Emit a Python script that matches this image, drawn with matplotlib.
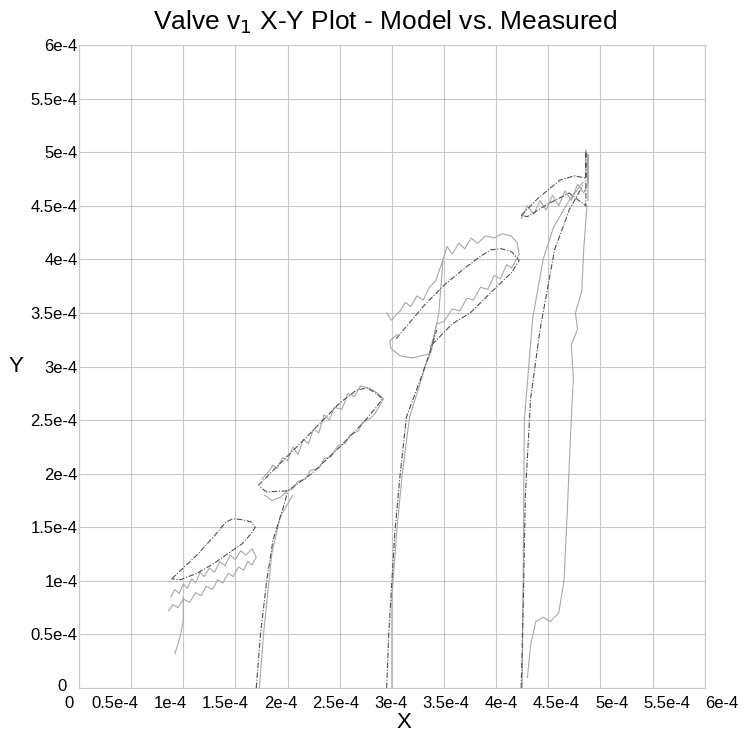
import matplotlib
matplotlib.use('Agg')
import matplotlib.pyplot as plt

# all values in units of 1e-4
SCALE = 1e-4

tick_vals = [0, 0.5, 1, 1.5, 2, 2.5, 3, 3.5, 4, 4.5, 5, 5.5, 6]
tick_text = ["0", "0.5e-4", "1e-4", "1.5e-4", "2e-4", "2.5e-4", "3e-4",
             "3.5e-4", "4e-4", "4.5e-4", "5e-4", "5.5e-4", "6e-4"]

# model traces (darker)
model_loop1_x = [0.89, 1.13, 1.29, 1.41, 1.48, 1.57, 1.65, 1.69, 1.65, 1.57, 1.45, 1.29, 1.13, 0.97, 0.89]
model_loop1_y = [1.02, 1.24, 1.41, 1.55, 1.58, 1.57, 1.55, 1.50, 1.44, 1.35, 1.27, 1.16, 1.07, 1.01, 1.02]

model_rise2_x = [1.70, 1.74, 1.80, 1.86, 1.96, 2.00]
model_rise2_y = [0.00, 0.50, 1.00, 1.38, 1.69, 1.83]
model_loop2_x = [1.72, 1.83, 2.18, 2.50, 2.66, 2.76, 2.85, 2.91, 2.85, 2.72, 2.50, 2.23, 2.00, 1.80, 1.73]
model_loop2_y = [1.89, 2.00, 2.34, 2.66, 2.78, 2.80, 2.75, 2.70, 2.62, 2.47, 2.25, 2.00, 1.84, 1.83, 1.88]

model_rise3_x = [2.95, 2.97, 3.00, 3.03, 3.08, 3.14, 3.27, 3.36, 3.43]
model_rise3_y = [0.00, 0.50, 1.00, 1.47, 2.00, 2.53, 2.87, 3.12, 3.34]
model_loop3_x = [3.04, 3.30, 3.50, 3.70, 3.85, 3.95, 4.05, 4.15, 4.22, 4.15, 4.00, 3.75, 3.58, 3.46, 3.36]
model_loop3_y = [3.26, 3.56, 3.76, 3.92, 4.03, 4.09, 4.10, 4.07, 3.99, 3.88, 3.74, 3.50, 3.40, 3.28, 3.18]

model_rise4_x = [4.24, 4.26, 4.28, 4.33, 4.42, 4.56, 4.70, 4.83]
model_rise4_y = [0.00, 0.80, 1.80, 2.70, 3.34, 4.09, 4.46, 4.69]
model_loop4_x = [4.24, 4.40, 4.61, 4.75, 4.86, 4.86, 4.86, 4.70, 4.50, 4.30, 4.24]
model_loop4_y = [4.41, 4.57, 4.74, 4.78, 4.76, 5.02, 4.50, 4.62, 4.52, 4.40, 4.41]

# measured traces (lighter, noisy)
meas_loop1_x = [0.88, 0.92, 0.96, 1.00, 1.04, 1.08, 1.12, 1.16, 1.20, 1.25, 1.30, 1.35, 1.40, 1.45, 1.50,
                1.55, 1.60, 1.66, 1.70, 1.66, 1.62, 1.58, 1.53, 1.48, 1.43, 1.38, 1.33, 1.28, 1.22, 1.17,
                1.12, 1.06, 1.00, 0.95, 0.90, 0.86]
meas_loop1_y = [0.85, 0.92, 0.88, 0.97, 0.93, 1.02, 0.98, 1.08, 1.04, 1.12, 1.08, 1.18, 1.14, 1.24, 1.20,
                1.28, 1.24, 1.30, 1.22, 1.15, 1.18, 1.10, 1.13, 1.04, 1.07, 0.98, 1.01, 0.92, 0.95, 0.86,
                0.89, 0.80, 0.83, 0.75, 0.78, 0.72]
meas_tail1_x = [1.00, 1.00, 0.97, 0.92]
meas_tail1_y = [0.85, 0.63, 0.48, 0.32]

meas_rise2_x = [1.73, 1.77, 1.85, 1.93, 2.05]
meas_rise2_y = [0.00, 0.51, 1.26, 1.60, 1.80]
meas_loop2_x = [1.75, 1.82, 1.86, 1.90, 1.95, 2.00, 2.05, 2.10, 2.15, 2.20, 2.25, 2.30, 2.35, 2.40, 2.45,
                2.52, 2.58, 2.64, 2.70, 2.78, 2.85, 2.92, 2.85, 2.80, 2.72, 2.68, 2.60, 2.55, 2.48, 2.42,
                2.35, 2.30, 2.22, 2.17, 2.10, 2.05, 2.00, 1.93, 1.85, 1.78]
meas_loop2_y = [1.95, 2.02, 2.08, 2.05, 2.15, 2.12, 2.25, 2.18, 2.32, 2.28, 2.42, 2.38, 2.55, 2.50, 2.62,
                2.60, 2.75, 2.72, 2.82, 2.80, 2.76, 2.70, 2.58, 2.52, 2.48, 2.40, 2.36, 2.28, 2.26, 2.16,
                2.14, 2.05, 2.03, 1.95, 1.93, 1.86, 1.84, 1.78, 1.75, 1.80]

meas_rise3_x = [3.00, 3.00, 3.05, 3.10, 3.17, 3.33, 3.38, 3.45, 3.49]
meas_rise3_y = [0.00, 0.85, 1.50, 2.00, 2.53, 3.03, 3.15, 3.50, 3.99]
meas_loop3_x = [2.95, 3.00, 3.03, 3.08, 3.13, 3.18, 3.24, 3.30, 3.36, 3.42, 3.48, 3.53, 3.58, 3.64, 3.70,
                3.76, 3.82, 3.90, 3.98, 4.06, 4.14, 4.20, 4.22, 4.15, 4.10, 4.04, 3.98, 3.92, 3.85, 3.78,
                3.72, 3.65, 3.58, 3.50, 3.43, 3.36, 3.20, 3.08, 2.99, 2.98, 3.05]
meas_loop3_y = [3.50, 3.43, 3.47, 3.52, 3.60, 3.56, 3.66, 3.62, 3.74, 3.80, 3.97, 4.12, 4.05, 4.15, 4.10,
                4.20, 4.15, 4.22, 4.20, 4.24, 4.22, 4.16, 4.05, 3.92, 3.95, 3.82, 3.85, 3.72, 3.74, 3.62,
                3.64, 3.52, 3.54, 3.42, 3.40, 3.12, 3.08, 3.10, 3.17, 3.24, 3.30]

meas_rise4_x = [4.30, 4.33, 4.38, 4.45, 4.52, 4.60, 4.65, 4.68, 4.71, 4.74, 4.72, 4.78, 4.76, 4.82, 4.84, 4.87]
meas_rise4_y = [0.10, 0.40, 0.62, 0.66, 0.62, 0.70, 1.00, 1.60, 2.30, 2.90, 3.20, 3.35, 3.50, 3.70, 4.10, 4.50]
meas_steep4_x = [4.25, 4.26, 4.27, 4.35, 4.45, 4.55, 4.70, 4.83]
meas_steep4_y = [0.00, 1.20, 2.50, 3.45, 4.00, 4.30, 4.55, 4.72]
meas_loop4_x = [4.24, 4.30, 4.36, 4.42, 4.48, 4.54, 4.60, 4.66, 4.72, 4.78, 4.84, 4.88, 4.88, 4.88]
meas_loop4_y = [4.38, 4.50, 4.42, 4.55, 4.46, 4.60, 4.50, 4.64, 4.55, 4.70, 4.62, 4.72, 4.98, 4.55]

model_traces = [(model_loop1_x, model_loop1_y), (model_rise2_x, model_rise2_y),
                (model_loop2_x, model_loop2_y), (model_rise3_x, model_rise3_y),
                (model_loop3_x, model_loop3_y), (model_rise4_x, model_rise4_y),
                (model_loop4_x, model_loop4_y)]
meas_traces = [(meas_loop1_x, meas_loop1_y), (meas_tail1_x, meas_tail1_y),
               (meas_rise2_x, meas_rise2_y), (meas_loop2_x, meas_loop2_y),
               (meas_rise3_x, meas_rise3_y), (meas_loop3_x, meas_loop3_y),
               (meas_rise4_x, meas_rise4_y), (meas_steep4_x, meas_steep4_y),
               (meas_loop4_x, meas_loop4_y)]

plt.rcParams['font.family'] = ['Liberation Sans', 'DejaVu Sans']

fig = plt.figure(figsize=(7.45, 7.33), dpi=100)
ax = fig.add_axes([0.106, 0.0614, 0.840, 0.877])

for xs, ys in meas_traces:
    ax.plot([v * SCALE for v in xs], [v * SCALE for v in ys], color='#a8a8a8', lw=0.8)
for xs, ys in model_traces:
    ax.plot([v * SCALE for v in xs], [v * SCALE for v in ys], color='#505050', lw=0.8,
            linestyle=(0, (5, 1.5, 1, 1.5)))

ax.set_xlim(0, 6 * SCALE)
ax.set_ylim(0, 6 * SCALE)
ax.set_xticks([v * SCALE for v in tick_vals])
ax.set_yticks([v * SCALE for v in tick_vals])
ax.set_xticklabels([])
ax.set_yticklabels([""] + tick_text[1:], fontsize=12)
ax.tick_params(length=0, pad=1)
ax.grid(True, color='#c8c8c8', lw=0.8)
for s in ax.spines.values():
    s.set_color('#c8c8c8')
    s.set_linewidth(0.8)

# the y "0" sits a little left and above the corner
ax.text(-0.019, 0.002, tick_text[0], transform=ax.transAxes, ha='right', va='center', fontsize=12)

# x tick labels sit a bit spread out in the original
for i, lab in enumerate(tick_text):
    if i == 0:
        fx = -0.016
    else:
        fx = (36 + (i - 1) * 55.2) / 626
    ax.text(fx, -0.013, lab, transform=ax.transAxes, ha='center', va='top', fontsize=12)

ax.text(0.52, -0.038, "X", transform=ax.transAxes, ha='center', va='top', fontsize=16)
ax.text(-0.1, 0.5, "Y", transform=ax.transAxes, ha='center', va='center', fontsize=16)

fig.text(0.517, 0.97, r"Valve v$_1$ X-Y Plot - Model vs. Measured", ha='center', va='center',
         fontsize=19)

plt.savefig('out.png', dpi=100)
